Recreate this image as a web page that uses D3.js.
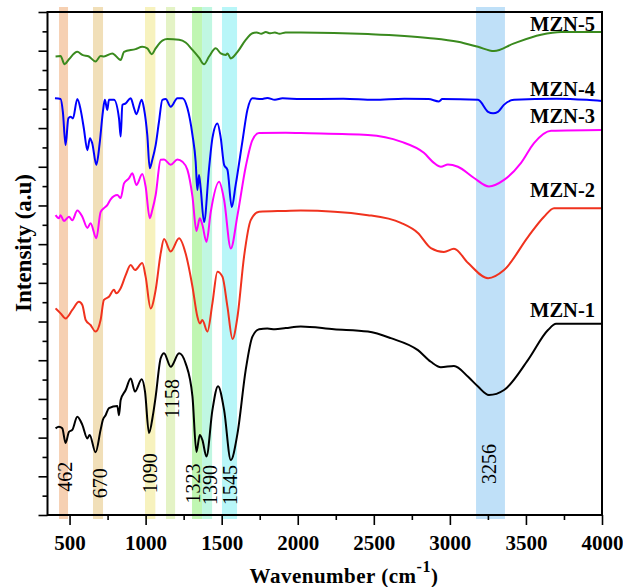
<!DOCTYPE html>
<html>
<head>
<meta charset="utf-8">
<script src="https://cdn.jsdelivr.net/npm/d3@7"></script>
<style>
  body { margin: 0; background: #fff; }
  text { font-family: "Liberation Serif", "Times New Roman", serif; }
</style>
</head>
<body>
<svg id="chart" width="623" height="587"></svg>
<script>
// FTIR spectra of the MZN samples, stacked with vertical offsets (a.u.)
const seriesNames  = ["MZN-1", "MZN-2", "MZN-3", "MZN-4", "MZN-5"];
const seriesColors = ["#000000", "#f0321e", "#ff00ff", "#0000ff", "#3a8a1e"];

// [wavenumber (cm-1), intensity (a.u., offset included)]
const mzn1 = [[408,2.24],[430,2.28],[452,2.24],[474,1.86],[496,2.15],[518,2.20],[551,2.54],[584,2.33],[617,1.98],[632,2.07],[671,1.62],[704,2.20],[719,2.46],[737,2.58],[759,2.76],[814,2.82],[825,2.58],[836,2.97],[869,3.23],[902,3.53],[930,3.19],[974,3.51],[996,3.19],[1022,2.12],[1048,2.58],[1066,3.06],[1099,4.05],[1121,4.18],[1165,3.83],[1220,4.18],[1263,3.92],[1308,3.06],[1334,1.63],[1356,2.07],[1373,1.94],[1400,1.51],[1439,2.71],[1476,3.33],[1516,2.71],[1560,1.42],[1604,2.11],[1658,3.75],[1702,4.61],[1746,4.80],[1800,4.82],[1850,4.80],[1921,4.83],[2020,4.87],[2238,4.80],[2461,4.74],[2612,4.57],[2790,4.26],[2875,3.96],[2941,3.82],[3027,3.85],[3120,3.57],[3185,3.32],[3257,3.10],[3356,3.23],[3514,4.01],[3645,4.78],[3698,4.94],[4000,4.94]];

const mzn2 = [[408,5.34],[441,5.21],[474,5.08],[518,5.30],[562,5.51],[584,5.43],[606,5.04],[638,4.91],[671,4.74],[704,5.04],[726,5.56],[759,5.64],[792,5.82],[807,5.73],[836,5.86],[869,6.20],[902,6.46],[930,6.33],[978,6.51],[1000,6.16],[1033,5.34],[1066,5.82],[1099,6.76],[1121,7.13],[1165,6.81],[1220,7.15],[1263,6.76],[1308,5.90],[1340,5.13],[1357,4.95],[1373,5.04],[1406,4.74],[1439,5.47],[1472,6.29],[1505,6.16],[1538,5.38],[1571,4.55],[1604,5.13],[1647,6.68],[1691,7.62],[1746,7.84],[1921,7.86],[2020,7.87],[2461,7.75],[2678,7.55],[2790,7.29],[2875,6.90],[2961,6.80],[3027,6.88],[3120,6.51],[3251,6.12],[3356,6.33],[3514,7.19],[3619,7.71],[3685,7.93],[4000,7.93]];

const mzn3 = [[408,7.75],[430,7.67],[441,7.75],[463,7.60],[496,7.71],[518,7.62],[551,7.87],[584,7.71],[617,7.42],[638,7.54],[676,7.15],[704,7.83],[726,7.93],[748,8.01],[770,8.16],[814,8.27],[836,8.19],[858,8.57],[890,8.70],[913,8.83],[939,8.53],[978,8.81],[1000,8.49],[1027,7.67],[1044,7.88],[1066,8.27],[1099,9.18],[1121,9.19],[1165,9.05],[1209,9.19],[1242,9.13],[1275,8.92],[1308,8.23],[1334,7.34],[1356,7.67],[1373,7.50],[1400,7.06],[1428,7.83],[1483,8.61],[1516,8.14],[1560,6.89],[1604,7.75],[1658,9.00],[1702,9.69],[1746,9.87],[1921,9.88],[2020,9.87],[2461,9.82],[2678,9.65],[2829,9.36],[2895,9.10],[2941,9.00],[2987,9.06],[3053,9.00],[3159,8.71],[3257,8.49],[3356,8.66],[3468,9.10],[3553,9.61],[3665,9.93],[4000,9.95]];

const mzn4 = [[404,10.77],[441,10.75],[456,10.42],[474,9.56],[492,10.25],[507,10.29],[522,10.25],[551,10.75],[573,10.47],[594,9.99],[617,9.43],[634,9.74],[649,9.61],[676,9.05],[698,9.61],[719,10.42],[732,10.73],[748,10.47],[759,10.73],[792,10.73],[825,10.25],[836,9.78],[847,10.60],[869,10.64],[902,10.77],[924,10.51],[939,10.36],[974,10.73],[989,10.51],[1011,9.82],[1027,8.96],[1044,9.18],[1066,9.56],[1088,10.17],[1110,10.73],[1132,10.75],[1165,10.55],[1209,10.77],[1242,10.77],[1275,10.51],[1308,9.82],[1329,9.13],[1340,8.40],[1351,8.79],[1362,8.44],[1384,7.57],[1417,8.96],[1439,9.74],[1472,10.12],[1494,9.74],[1516,9.05],[1538,8.92],[1566,7.96],[1592,8.53],[1636,9.65],[1669,10.47],[1702,10.77],[1760,10.75],[1800,10.78],[1850,10.73],[1900,10.77],[2020,10.75],[2300,10.76],[2500,10.73],[2700,10.76],[2860,10.75],[2928,10.69],[2950,10.75],[3185,10.73],[3251,10.42],[3284,10.38],[3316,10.42],[3355,10.60],[3422,10.73],[3700,10.76],[3900,10.73],[4000,10.70]];

const mzn5 = [[408,11.85],[441,11.86],[467,11.65],[496,11.78],[551,11.97],[584,11.89],[627,11.85],[671,11.72],[704,11.86],[726,11.85],[781,11.93],[836,11.76],[858,11.97],[934,12.04],[978,12.10],[1011,12.06],[1040,11.91],[1066,12.06],[1110,12.26],[1143,12.30],[1220,12.28],[1263,12.21],[1308,12.02],[1351,11.82],[1384,11.65],[1417,11.85],[1461,12.06],[1494,11.93],[1527,11.89],[1538,11.93],[1560,11.80],[1604,11.97],[1658,12.28],[1702,12.45],[1730,12.47],[1760,12.44],[1790,12.48],[1820,12.45],[1850,12.47],[1880,12.44],[1920,12.47],[2020,12.47],[2461,12.43],[2856,12.33],[3053,12.23],[3185,12.10],[3290,11.99],[3422,12.19],[3599,12.41],[3731,12.48],[4000,12.48]];

const seriesData = [mzn1, mzn2, mzn3, mzn4, mzn5];

// highlighted absorption bands: [from, to] in cm-1, with their peak labels
const bandRanges = [[431,490],[654,720],[996,1064],[1134,1194],[1305,1371],[1371,1437],[1502,1601],[3172,3362]];
const bandPeaks  = [462, 670, 1090, 1158, 1323, 1390, 1545, 3256];
const bandColors = ["#f6d0b2","#f1dfb8","#f7f2be","#e4f3c6","#c0f6b2","#c0f7e2","#b8f6f8","#bfe0f8"];

const xTicks = [500, 1000, 1500, 2000, 2500, 3000, 3500, 4000];
const xMinorTicks = [750, 1250, 1750, 2250, 2750, 3250, 3750];
const yTicks = d3.range(0, 14, 1);
const yMinorTicks = d3.range(0.5, 13, 1);

// label placement (cm-1 / a.u.)
const bandLabelPos = [[467,0.60],[700,0.43],[1029,0.56],[1171,2.50],[1313,0.30],[1423,0.26],[1554,0.26],[3257,0.80]];
const seriesLabelPos = [5.13, 8.23, 10.12, 10.82, 12.51];

const svg = d3.select("#chart");
const x = d3.scaleLinear().domain([355, 4000]).range([47.5, 602]);
const y = d3.scaleLinear().domain([0, 13]).range([515, 12]);

// bands
svg.append("g").selectAll("rect")
  .data(bandRanges)
  .join("rect")
  .attr("x", d => x(d[0]))
  .attr("width", d => x(d[1]) - x(d[0]))
  .attr("y", y(13) - 5)
  .attr("height", y(0) - y(13) + 9)
  .attr("fill", (d, i) => bandColors[i]);

// spectra
const line = d3.line().x(d => x(d[0])).y(d => y(d[1])).curve(d3.curveMonotoneX);
svg.append("g").selectAll("path")
  .data(seriesData)
  .join("path")
  .attr("d", line)
  .attr("fill", "none")
  .attr("stroke", (d, i) => seriesColors[i])
  .attr("stroke-width", 2)
  .attr("stroke-linejoin", "round");

// axes
const xAxis = svg.append("g").attr("transform", `translate(0,${y(0)})`)
  .call(d3.axisBottom(x).tickValues(xTicks).tickSize(10).tickSizeOuter(0).tickPadding(10).tickFormat(d3.format("d")));
svg.append("g").attr("transform", `translate(0,${y(0)})`)
  .call(d3.axisBottom(x).tickValues(xMinorTicks).tickSize(5).tickSizeOuter(0).tickFormat(""));
svg.append("g").attr("transform", `translate(${x(355)},0)`)
  .call(d3.axisLeft(y).tickValues(yTicks).tickSize(9).tickSizeOuter(0).tickFormat(""));
svg.append("g").attr("transform", `translate(${x(355)},0)`)
  .call(d3.axisLeft(y).tickValues(yMinorTicks).tickSize(5).tickSizeOuter(0).tickFormat(""));
svg.selectAll(".domain").remove();
svg.selectAll(".tick line").attr("stroke", "#000").attr("stroke-width", 1.6);
xAxis.selectAll(".tick text")
  .attr("font-size", 21).attr("font-weight", "bold").attr("fill", "#000");

// frame
svg.append("rect")
  .attr("x", x(355)).attr("y", y(13))
  .attr("width", x(4000) - x(355)).attr("height", y(0) - y(13))
  .attr("fill", "none").attr("stroke", "#000").attr("stroke-width", 2);

// band labels
svg.append("g").selectAll("text")
  .data(bandPeaks)
  .join("text")
  .attr("transform", (d, i) => `translate(${x(bandLabelPos[i][0])},${y(bandLabelPos[i][1])}) rotate(-90)`)
  .attr("dy", "0.35em")
  .attr("font-size", 20)
  .attr("fill", "#000")
  .text(d => d);

// series labels
svg.append("g").selectAll("text")
  .data(seriesNames)
  .join("text")
  .attr("x", 595)
  .attr("y", (d, i) => y(seriesLabelPos[i]))
  .attr("text-anchor", "end")
  .attr("font-size", 20.5)
  .attr("font-weight", "bold")
  .text(d => d);

// axis titles
svg.append("text")
  .attr("transform", `translate(31,243) rotate(-90)`)
  .attr("text-anchor", "middle")
  .attr("font-size", 23)
  .attr("font-weight", "bold")
  .text("Intensity (a.u)");

const xt = svg.append("text")
  .attr("x", 344).attr("y", 583)
  .attr("text-anchor", "middle")
  .attr("font-size", 21)
  .attr("font-weight", "bold")
  .attr("letter-spacing", 0.5);
xt.append("tspan").text("Wavenumber (cm");
xt.append("tspan").attr("font-size", 16).attr("dy", -11).text("-1");
xt.append("tspan").attr("dy", 11).text(")");
</script>
</body>
</html>
